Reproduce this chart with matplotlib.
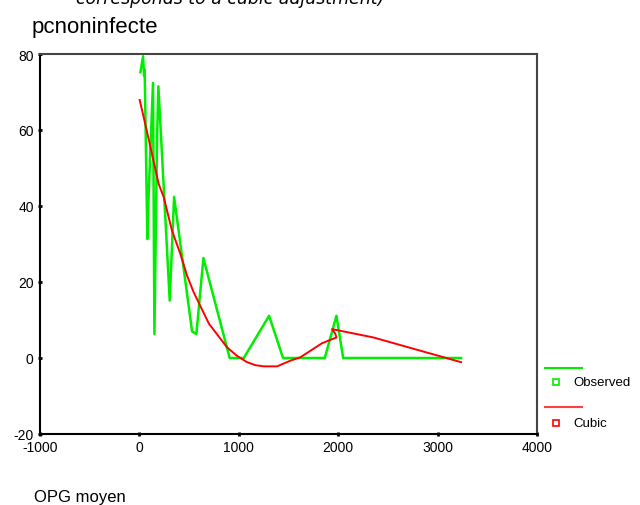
import matplotlib.pyplot as plt
from matplotlib.lines import Line2D

# observed values (green)
obs_x = [10, 37, 47, 53, 80, 93, 137, 151, 178, 191, 305, 349, 530, 573, 644,
         908, 1050, 1305, 1445, 1865, 1982, 2050, 3236]
obs_y = [75.2, 79.4, 74.3, 76.0, 31.3, 43.0, 72.4, 6.3, 58.0, 71.5, 15.1, 42.4,
         7.0, 6.3, 26.3, 0, 0, 11.1, 0, 0, 11.1, 0, 0]

# cubic fit values (red)
fit_x = [3, 70, 194, 245, 328, 412, 479, 546, 700, 882, 980, 1083, 1170, 1251,
         1385, 1519, 1620, 1838, 1982, 1972, 1939, 2355, 3236]
fit_y = [67.9, 60.3, 45.8, 42.3, 33.5, 27.4, 21.7, 17.3, 9.0, 2.8, 0.6, -1.1,
         -1.9, -2.2, -2.2, -0.7, 0.2, 3.9, 5.4, 6.3, 7.6, 5.4, -1.1]

xticks = [-1000, 0, 1000, 2000, 3000, 4000]
yticks = [-20, 0, 20, 40, 60, 80]

plt.rcParams['font.family'] = ['Liberation Sans', 'DejaVu Sans']
plt.rcParams['axes.unicode_minus'] = False

fig = plt.figure(figsize=(6.4, 5.06), dpi=100)
ax = fig.add_axes([40/640, 71/506, 497/640, 380/506])

ax.plot(obs_x, obs_y, color='#00ee00', lw=1.8)
ax.plot(fit_x, fit_y, color='#ff0000', lw=1.4)

ax.set_xlim(-1000, 4000)
ax.set_ylim(-20, 80)
ax.set_xticks(xticks)
ax.set_yticks(yticks)
ax.tick_params(direction='inout', length=3, width=2, labelsize=10, pad=3)
for s in ['left', 'bottom']:
    ax.spines[s].set_color('black')
    ax.spines[s].set_linewidth(1.5)
for s in ['top', 'right']:
    ax.spines[s].set_color('#444444')
    ax.spines[s].set_linewidth(1.5)

# titles
fig.text(230/640, 1 - 4/506, 'corresponds to a cubic adjustment)', style='italic',
         family='DejaVu Sans', fontsize=12.5, ha='center', va='baseline')
fig.text(32/640, 1 - 33/506, 'pcnoninfecte', fontsize=16, ha='left', va='baseline')
fig.text(34/640, 1 - 502/506, 'OPG moyen', fontsize=12, ha='left', va='baseline')

# legend
fig.add_artist(Line2D([545/640, 582/640], [1 - 369/506] * 2, color='#00ee00', lw=1.5))
fig.add_artist(Line2D([556/640], [1 - 383/506], marker='s', ms=5, mfc='white',
                      mec='#00ee00', mew=1.2, lw=0))
fig.text(573/640, 1 - 383/506, 'Observed', fontsize=9.5, va='center')
fig.add_artist(Line2D([545/640, 582/640], [1 - 408/506] * 2, color='#ff4040', lw=1.5))
fig.add_artist(Line2D([556/640], [1 - 424/506], marker='s', ms=5, mfc='white',
                      mec='#ff0000', mew=1.2, lw=0))
fig.text(573/640, 1 - 424/506, 'Cubic', fontsize=9.5, va='center')

fig.savefig('out.png', dpi=100)
